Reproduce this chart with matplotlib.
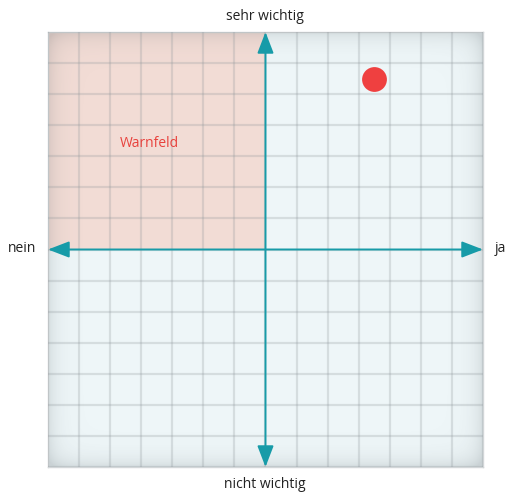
import numpy as np
import matplotlib
matplotlib.use("Agg")
import matplotlib.pyplot as plt
from matplotlib.patches import Rectangle

plt.rcParams['font.family'] = ['Open Sans', 'DejaVu Sans']

# Data
point_x = [3.5]
point_y = [5.5]
x_range = (-7, 7)
y_range = (-7, 7)
label_top = "sehr wichtig"
label_bottom = "nicht wichtig"
label_left = "nein"
label_right = "ja"
zone_label = "Warnfeld"
zone_label_pos = (-3.75, 3.4)

W, H = 506, 492
fig = plt.figure(figsize=(W / 100, H / 100), dpi=100)
ax = fig.add_axes([48 / W, (492 - 467) / H, 435 / W, 435 / H])
ax.set_xlim(*x_range)
ax.set_ylim(*y_range)
ax.set_facecolor('#EEF6F8')

# Warn zone (top-left quadrant)
ax.add_patch(Rectangle((x_range[0], 0), -x_range[0], y_range[1],
                       facecolor='#F2DCD5', edgecolor='none', zorder=1))

# Bevel / vignette overlay
n = 435
xs = np.linspace(0, 1, n)
edge = np.minimum(xs, 1 - xs)
dx = edge[None, :] * np.ones((n, 1))
dy = edge[:, None] * np.ones((1, n))
w = 0.022
a = np.exp(-dx / w) * 0.15 + np.exp(-dy / w) * 0.15
a = np.clip(a, 0, 0.22)
rgba = np.zeros((n, n, 4))
rgba[..., 0] = 0.30
rgba[..., 1] = 0.34
rgba[..., 2] = 0.36
rgba[..., 3] = a
ax.imshow(rgba, extent=[x_range[0], x_range[1], y_range[0], y_range[1]],
          aspect='auto', zorder=2, interpolation='bilinear')

# Grid
ticks = np.arange(x_range[0], x_range[1] + 1, 1)
ax.set_xticks(ticks)
ax.set_yticks(ticks)
ax.grid(True, color='#8E969A', alpha=0.26, linewidth=1.6, zorder=3)
ax.set_axisbelow(False)
ax.tick_params(length=0, labelbottom=False, labelleft=False)
for s in ax.spines.values():
    s.set_color('#D2D6D8')
    s.set_linewidth(1.0)

# Axes arrows
teal = '#179BA8'
arrow_kw = dict(arrowstyle='<|-|>,head_length=1.3,head_width=0.5',
                color=teal, lw=1.4, mutation_scale=10, shrinkA=0, shrinkB=0)
ax.annotate('', xy=(x_range[1], 0), xytext=(x_range[0], 0),
            arrowprops=arrow_kw, zorder=5)
ax.annotate('', xy=(0, y_range[1]), xytext=(0, y_range[0]),
            arrowprops=arrow_kw, zorder=5)

# Point
ax.scatter(point_x, point_y, s=np.pi * 14 ** 2 * (72 / 100) ** 2, color='#EF4040',
           zorder=6, linewidths=0)

ax.text(*zone_label_pos, zone_label, color='#E8413C', fontsize=10,
        ha='center', va='center', zorder=6)

# Outer labels
fs = 10
fig.text(265 / W, 1 - 16 / H, label_top, ha='center', va='center', fontsize=fs, color='#222222')
fig.text(265 / W, 1 - 485 / H, label_bottom, ha='center', va='center', fontsize=fs, color='#222222')
fig.text(22 / W, 1 - 249 / H, label_left, ha='center', va='center', fontsize=fs, color='#222222')
fig.text(500 / W, 1 - 249 / H, label_right, ha='center', va='center', fontsize=fs, color='#222222')

fig.savefig('out.png', dpi=100)
